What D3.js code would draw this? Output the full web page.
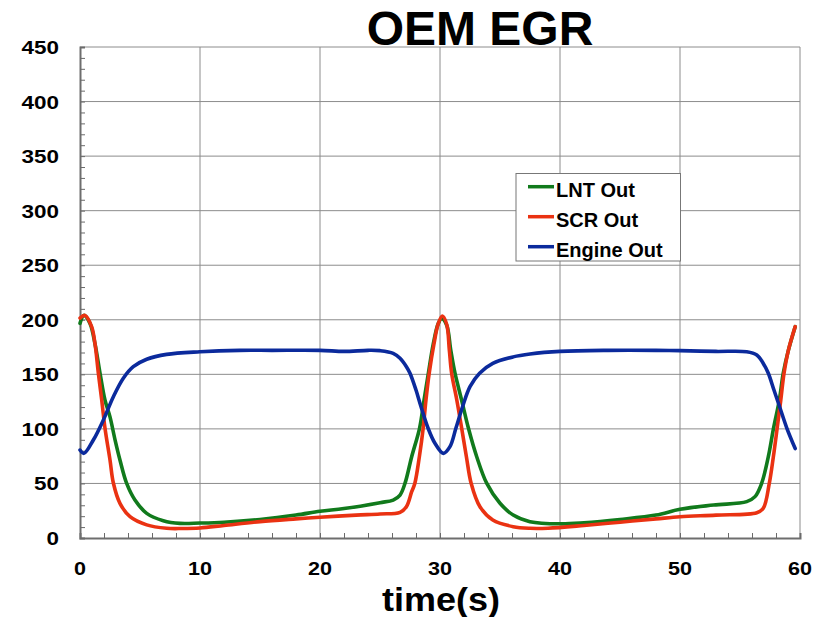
<!DOCTYPE html>
<html><head><meta charset="utf-8">
<script src="https://cdn.jsdelivr.net/npm/d3@7"></script>
<style>
body{margin:0;background:#fff;}
svg{display:block;}
text{font-family:"Liberation Sans",Arial,Helvetica,sans-serif;font-weight:bold;fill:#000;}
</style></head>
<body>
<svg id="chart" width="821" height="617"></svg>
<script>
const title = "OEM EGR";
const xLabel = "time(s)";
const xTicks = [0,10,20,30,40,50,60];
const yTicks = [0,50,100,150,200,250,300,350,400,450];
const seriesNames = ["LNT Out","SCR Out","Engine Out"];
const seriesColors = ["#117a1c","#ea3212","#0b2a9c"];

const lntT = [0,0.33,0.83,1.25,1.67,2.08,2.5,2.92,3.33,3.89,4.58,5.56,6.94,8.33,10,12,15,18,20,22,25,26.1,26.67,27.08,27.64,28.3,28.67,29.03,29.44,29.86,30.14,30.56,30.9,31.25,31.8,32.36,33.06,33.9,35,36.1,37.5,40,42,45,48,50,52.8,55.56,56.25,56.8,57.36,57.8,58.28,58.6,59.03,59.6];
const lntV = [196.7,204,196.7,178,151,126.5,111,90,71.5,50,34.8,22.6,15.9,13.4,13.7,14.5,17,21,24.5,27,32.4,34.8,39.4,50,74.5,100.8,126.5,151,178,196.7,201,195,172,151,126.5,101,74.5,50,31.8,21,15,13,14,17,21,26.3,30.2,33.3,37.9,50,74.5,101,126.5,151,172,193.7];

const scrT = [0,0.42,0.97,1.25,1.53,1.81,2.08,2.5,2.78,3.33,4.17,5.56,7.22,8.5,10,12,15,18,20,23,25,26.67,27.2,27.64,27.9,28.28,28.6,28.83,29.1,29.5,29.86,30.2,30.56,30.78,30.97,31.4,31.8,32.2,32.6,33.33,34.4,36.1,37.5,39,42,45,48,50,53,56.4,56.94,57.44,57.78,58.1,58.4,58.67,59.03,59.6];
const scrV = [201.6,204,193.7,178,151,126.5,100.8,71.5,50.4,31.8,19.5,12,8.9,8.7,9.2,11.5,15,17.5,19,21,22,23.5,28.7,42.4,50,74.5,100.8,126.5,151,178,196.7,203.5,195.6,172,151,126.5,101,74.5,50,28.7,16.5,10.4,8.9,9,11.5,14.5,17.5,19.5,21,23.2,27.2,50,74.5,101,126.5,151,172,193.7];

const engT = [0,0.33,1.11,1.94,2.78,3.61,4.44,5.56,7.22,10,13.3,16,20,22,24,25,26.1,26.67,27.2,27.5,28,28.4,29,29.58,30.28,30.83,31.33,31.9,32.5,33.3,34.4,36.1,37.5,40,44,48,50,53,55.56,56.4,56.94,57.36,57.83,58.28,58.9,59.6];
const engV = [80.6,77.6,89.8,108,129.5,146.4,157,163.8,168.3,170.7,172,172,172,171,172,171.7,169.3,164.7,157,151,135.6,121,100.8,86.8,77.6,83.7,100.8,121,138.7,151,160,166,168.6,171,172,172,171.7,171,170.7,167.7,160,151,135.6,121,100.8,82];

const series = [
  {name:seriesNames[0], color:seriesColors[0], t:lntT, v:lntV},
  {name:seriesNames[1], color:seriesColors[1], t:scrT, v:scrV},
  {name:seriesNames[2], color:seriesColors[2], t:engT, v:engV}
];

const W=821,H=617, m={l:80,r:21,t:47,b:79};
const svg=d3.select("#chart");
const x=d3.scaleLinear().domain([0,60]).range([m.l,W-m.r]);
const y=d3.scaleLinear().domain([0,450]).range([H-m.b,m.t]);

// grid
const g=svg.append("g");
g.selectAll(".vg").data(xTicks.slice(1)).enter().append("line")
 .attr("x1",d=>x(d)).attr("x2",d=>x(d)).attr("y1",y(0)).attr("y2",y(450))
 .attr("stroke","#8c8c8c").attr("stroke-width",1);
g.selectAll(".hg").data(yTicks.slice(1)).enter().append("line")
 .attr("x1",x(0)).attr("x2",x(60)).attr("y1",d=>y(d)).attr("y2",d=>y(d))
 .attr("stroke","#8c8c8c").attr("stroke-width",1);

// minor ticks + axis lines
const xAxis=d3.axisBottom(x).tickValues(d3.range(0,61,2)).tickSize(-5).tickFormat("");
const yAxis=d3.axisLeft(y).tickValues(d3.range(0,451,10)).tickSize(-5).tickFormat("");
const gx=svg.append("g").attr("transform",`translate(0,${y(0)})`).call(xAxis);
const gy=svg.append("g").attr("transform",`translate(${x(0)},0)`).call(yAxis);
[gx,gy].forEach(a=>{a.selectAll(".tick line").attr("stroke","#6a6a6a").attr("stroke-width",1);
 a.select(".domain").attr("stroke","#6e6e6e").attr("stroke-width",2);});

// tick labels
svg.selectAll(".xl").data(xTicks).enter().append("text")
 .attr("x",d=>x(d)).attr("y",575).attr("text-anchor","middle")
 .attr("font-size",19).attr("textLength",d=>String(d).length*12).attr("lengthAdjust","spacingAndGlyphs").text(d=>d);
svg.selectAll(".yl").data(yTicks).enter().append("text")
 .attr("x",59).attr("y",d=>y(d)+7).attr("text-anchor","end")
 .attr("font-size",19).attr("textLength",d=>String(d).length*12.5).attr("lengthAdjust","spacingAndGlyphs").text(d=>d);

// lines
const line=d3.line().curve(d3.curveCatmullRom.alpha(0.5));
series.forEach(s=>{
  const pts=s.t.map((t,i)=>[x(t),y(s.v[i])]);
  svg.append("path").attr("d",line(pts)).attr("fill","none")
   .attr("stroke",s.color).attr("stroke-width",3.6).attr("stroke-linejoin","round").attr("stroke-linecap","round");
});

// title + axis title
svg.append("text").attr("x",480).attr("y",45).attr("text-anchor","middle")
 .attr("font-size",48).text(title);
svg.append("text").attr("x",441).attr("y",611).attr("text-anchor","middle")
 .attr("font-size",34).attr("textLength",118).attr("lengthAdjust","spacingAndGlyphs").text(xLabel);

// legend
const lg=svg.append("g");
lg.append("rect").attr("x",516).attr("y",173.5).attr("width",164.5).attr("height",87.5)
 .attr("fill","#fff").attr("stroke","#777").attr("stroke-width",1);
series.forEach((s,i)=>{
  const yy=186.7+i*30;
  lg.append("line").attr("x1",528).attr("x2",554).attr("y1",yy).attr("y2",yy)
   .attr("stroke",s.color).attr("stroke-width",3.5);
  lg.append("text").attr("x",556).attr("y",yy+10.6)
   .attr("font-size",20).text(s.name);
});
</script>
</body></html>
